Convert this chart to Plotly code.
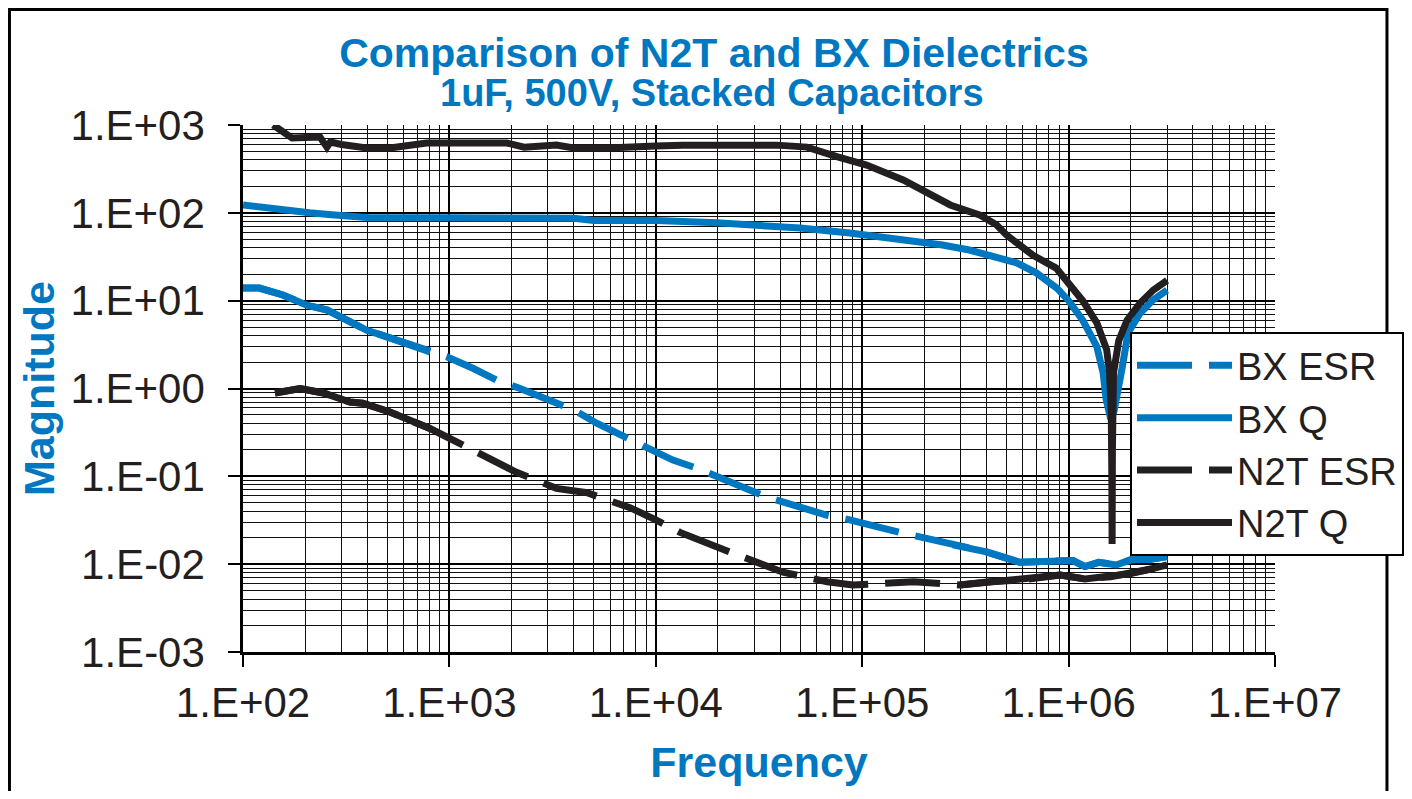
import plotly.graph_objects as go

# ---------------- data ----------------
bx_esr_f = [100, 120, 156, 204, 256, 280, 398, 478, 806, 972, 1300, 1700, 2200, 2750,
            4000, 5200, 7500, 10500, 12100, 15800, 20500, 34600, 67700, 87000, 158000,
            275000, 400000, 580000, 910000, 1.05e6, 1.2e6, 1.4e6, 1.7e6, 2.0e6, 2.5e6, 3.0e6]
bx_esr_v = [13.9, 13.9, 11.6, 8.9, 7.8, 7.0, 4.6, 4.0, 2.6, 2.3, 1.7, 1.24, 1.0, 0.8,
            0.57, 0.40, 0.26, 0.18, 0.153, 0.124, 0.095, 0.058, 0.036, 0.032, 0.0225,
            0.0166, 0.0138, 0.0105, 0.011, 0.011, 0.0094, 0.0105, 0.0098, 0.0112, 0.0114, 0.0122]

bx_q_f = [100, 120, 170, 210, 260, 355, 412, 1000, 2000, 4000, 5000, 10000, 19800, 38600,
          50000, 87000, 136000, 245000, 330000, 447000, 560000, 700000, 880000, 1.0e6,
          1.17e6, 1.37e6, 1.47e6, 1.52e6, 1.56e6, 1.6e6, 1.66e6, 1.74e6, 1.82e6, 1.94e6,
          2.22e6, 2.57e6, 3.0e6]
bx_q_v = [123, 116, 103, 100, 96, 93, 88, 88, 88, 87, 82, 82, 77, 71,
          67, 59, 52, 43, 37.7, 30.5, 27, 20.6, 13.8, 10,
          6.0, 3.0, 1.5, 0.75, 0.55, 0.45, 0.55, 0.9, 1.75, 4.3,
          7.2, 10.2, 13.2]

n2t_esr_f = [143, 189, 245, 330, 380, 515, 806, 972, 1620, 2100, 3300, 4650, 5800, 7500,
             10000, 13100, 22900, 31000, 41300, 67700, 90000, 177000, 297000, 414000,
             582000, 910000, 1.2e6, 1.6e6, 2.0e6, 2.5e6, 3.0e6]
n2t_esr_v = [0.89, 1.0, 0.89, 0.7, 0.68, 0.54, 0.35, 0.28, 0.153, 0.112, 0.073, 0.065, 0.054, 0.044,
             0.032, 0.023, 0.0137, 0.0102, 0.0081, 0.0063, 0.0058, 0.0063, 0.0058, 0.0063,
             0.0066, 0.0075, 0.0068, 0.0072, 0.0078, 0.0088, 0.0098]

n2t_q_f = [140, 173, 236, 255, 265, 300, 398, 515, 776, 1300, 1900, 2300, 3300, 4000, 5800,
           10000, 13500, 38600, 54000, 76000, 105000, 158000, 206000, 267000, 373000,
           447000, 500000, 670000, 870000, 1.0e6, 1.17e6, 1.37e6, 1.53e6, 1.58e6, 1.61e6,
           1.62e6, 1.625e6, 1.63e6, 1.65e6, 1.75e6, 1.92e6, 2.22e6, 2.57e6, 3.0e6]
n2t_q_v = [1000, 710, 730, 560, 640, 600, 548, 548, 624, 640, 624, 560, 590, 548, 548,
           575, 590, 590, 560, 433, 350, 237, 168, 123, 94,
           73, 56, 33, 23.5, 16, 10, 5.6, 2.75, 1.5, 0.5,
           0.1, 0.017, 0.2, 1.5, 3.5, 6.0, 9.4, 13.2, 17]

x_tick_vals = [1e2, 1e3, 1e4, 1e5, 1e6, 1e7]
x_tick_text = ["1.E+02", "1.E+03", "1.E+04", "1.E+05", "1.E+06", "1.E+07"]
y_tick_vals = [1e-3, 1e-2, 1e-1, 1e0, 1e1, 1e2, 1e3]
y_tick_text = ["1.E-03", "1.E-02", "1.E-01", "1.E+00", "1.E+01", "1.E+02", "1.E+03"]

# dense (visually solid) portions of the ESR curves
solid_low_max = 806
solid_high_min = 2.0e5

# ---------------- styling ----------------
BLUE = "#0078C1"
BLACK = "#231F20"
FONT = "Liberation Sans, Arial, sans-serif"
LW = 7
DASH = "55px,17px"

x_minor = [m * 10 ** e for e in range(2, 7) for m in range(2, 10)]
y_minor = [m * 10.0 ** e for e in range(-3, 3) for m in range(2, 10)]

fig = go.Figure()


def subset(fs, vs, cond):
    pts = [(f, v) for f, v in zip(fs, vs) if cond(f)]
    return [p[0] for p in pts], [p[1] for p in pts]


series = [
    ("BX ESR", bx_esr_f, bx_esr_v, BLUE, True),
    ("BX Q", bx_q_f, bx_q_v, BLUE, False),
    ("N2T ESR", n2t_esr_f, n2t_esr_v, BLACK, True),
    ("N2T Q", n2t_q_f, n2t_q_v, BLACK, False),
]

for name, fs, vs, col, dashed in series:
    fig.add_trace(go.Scatter(
        x=fs, y=vs, mode="lines", name=name, legendgroup=name,
        line=dict(color=col, width=LW, dash=DASH if dashed else "solid"),
    ))
    if dashed:
        for cond in (lambda f: f <= solid_low_max, lambda f: f >= solid_high_min):
            sf, sv = subset(fs, vs, cond)
            fig.add_trace(go.Scatter(
                x=sf, y=sv, mode="lines", name=name, legendgroup=name, showlegend=False,
                line=dict(color=col, width=LW),
            ))

axis_common = dict(
    type="log",
    tickmode="array",
    showgrid=True, gridcolor="#000000", gridwidth=1.5,
    ticks="outside", ticklen=12, tickwidth=1.5, tickcolor="black",
    showline=True, linecolor="black", linewidth=2.5,
    tickfont=dict(family=FONT, size=42, color=BLACK),
    zeroline=False,
)

fig.update_xaxes(
    **axis_common,
    range=[2, 7],
    tickvals=x_tick_vals, ticktext=x_tick_text,
    minor=dict(tickmode="array", tickvals=x_minor, showgrid=True,
               gridcolor="#111111", gridwidth=1.3, ticks=""),
    title=dict(text="<b>Frequency</b>", font=dict(family=FONT, size=43, color=BLUE), standoff=22),
)
fig.update_yaxes(
    **axis_common,
    range=[-3, 3],
    tickvals=y_tick_vals, ticktext=y_tick_text,
    ticklabelstandoff=15,
    minor=dict(tickmode="array", tickvals=y_minor, showgrid=True,
               gridcolor="#111111", gridwidth=1.3, ticks=""),
    title=dict(text="<b>Magnitude</b>", font=dict(family=FONT, size=43, color=BLUE), standoff=3),
)

fig.update_layout(
    width=1396, height=783,
    margin=dict(l=235, r=129, t=117, b=139, autoexpand=False),
    paper_bgcolor="white", plot_bgcolor="white",
    title=dict(text="<b>Comparison of N2T and BX Dielectrics</b>",
               font=dict(family=FONT, size=41, color=BLUE),
               x=0.5057, xanchor="center", y=0.9425, yanchor="middle", yref="container"),
    annotations=[dict(text="<b>1uF, 500V, Stacked Capacitors</b>", xref="paper", yref="paper",
                      x=0.4545, y=1.0607, xanchor="center", yanchor="middle", showarrow=False,
                      font=dict(family=FONT, size=38, color=BLUE))],
    legend=dict(x=0.8595, y=0.607, xanchor="left", yanchor="top",
                bgcolor="white", bordercolor="black", borderwidth=2,
                font=dict(family=FONT, size=38, color=BLACK),
                itemwidth=95, tracegroupgap=0),
    shapes=[dict(type="rect", xref="paper", yref="paper",
                 x0=-0.2263, x1=1.1085, y0=-0.32, y1=1.2192,
                 line=dict(color="black", width=3), layer="above")],
    showlegend=True,
)

fig.write_html("out.html")
